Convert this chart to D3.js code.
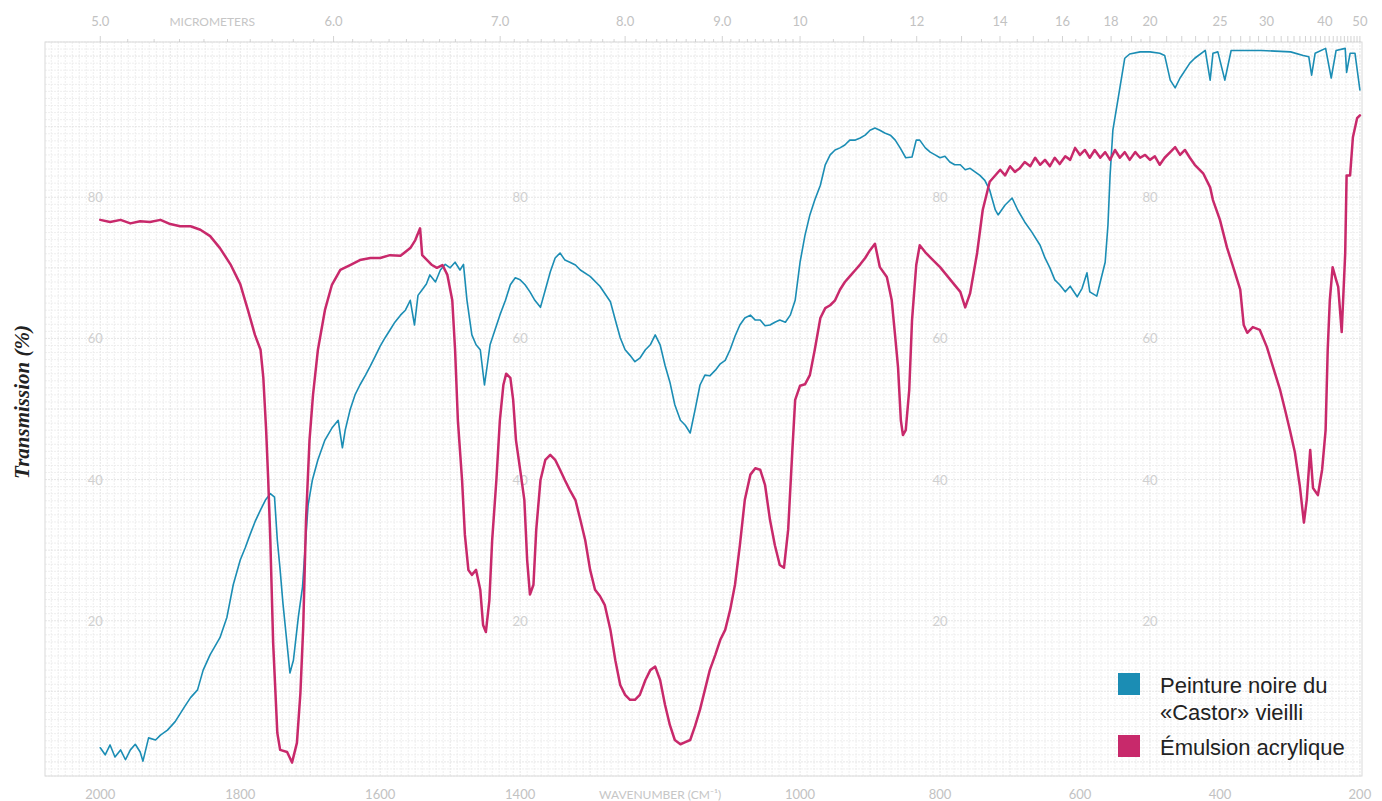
<!DOCTYPE html>
<html>
<head>
<meta charset="utf-8">
<script src="https://cdn.jsdelivr.net/npm/d3@7"></script>
<style>
  body { margin: 0; background: #fff; }
  svg { display: block; }
</style>
</head>
<body>
<div id="chart"></div>
<script>
// Spectre IR : [nombre d'onde (cm-1), transmission (%)]
const peintureCastor = [
  [2000, 2.0], [1993, 1.0], [1986, 2.4], [1979, 0.7], [1971, 1.7], [1964, 0.3], [1957, 1.7],
  [1950, 2.5], [1943, 1.4], [1939, 0.1], [1931, 3.4], [1921, 3.1], [1914, 3.8], [1904, 4.5],
  [1893, 5.7], [1886, 6.8], [1879, 7.9], [1871, 9.1], [1861, 10.2], [1853, 13.0], [1843, 15.2],
  [1829, 17.6], [1819, 20.5], [1810, 25.1], [1800, 28.6], [1793, 30.3], [1786, 32.2], [1779, 34.0],
  [1771, 35.7], [1764, 37.1], [1757, 38.0], [1751, 37.5], [1747, 31.4], [1743, 27.2], [1739, 22.5],
  [1733, 16.6], [1729, 12.6], [1724, 14.4], [1717, 20.5], [1711, 24.8], [1707, 30.7], [1703, 36.4],
  [1697, 39.9], [1689, 42.8], [1679, 45.6], [1669, 47.3], [1660, 48.4], [1654, 44.5], [1650, 47.0],
  [1643, 49.9], [1636, 52.0], [1629, 53.4], [1621, 54.8], [1614, 56.1], [1607, 57.5], [1600, 58.9],
  [1593, 60.1], [1586, 61.2], [1579, 62.3], [1571, 63.3], [1564, 64.0], [1557, 65.4], [1551, 61.9],
  [1546, 66.1], [1540, 66.9], [1534, 67.7], [1529, 69.0], [1521, 68.0], [1514, 69.7], [1507, 70.5],
  [1500, 70.0], [1493, 70.8], [1486, 69.7], [1481, 70.5], [1476, 65.4], [1469, 60.5], [1463, 59.1],
  [1457, 58.4], [1451, 53.4], [1447, 56.2], [1443, 59.1], [1436, 61.2], [1429, 63.3], [1421, 65.4],
  [1414, 67.6], [1407, 68.6], [1400, 68.3], [1393, 67.6], [1386, 66.6], [1379, 65.4], [1371, 64.4],
  [1364, 66.9], [1357, 69.4], [1350, 71.4], [1343, 72.1], [1336, 71.1], [1329, 70.8], [1321, 70.4],
  [1314, 69.7], [1300, 68.8], [1286, 67.4], [1271, 65.2], [1264, 62.6], [1257, 60.1], [1250, 58.4],
  [1243, 57.6], [1236, 56.7], [1229, 57.2], [1221, 58.4], [1214, 59.1], [1207, 60.5], [1200, 59.1],
  [1193, 56.2], [1186, 53.8], [1179, 50.6], [1171, 48.4], [1164, 47.7], [1157, 46.6], [1150, 49.9],
  [1143, 53.4], [1136, 54.8], [1129, 54.7], [1121, 55.5], [1114, 56.4], [1107, 56.9], [1100, 58.4],
  [1093, 60.3], [1086, 61.9], [1079, 62.9], [1071, 63.3], [1064, 62.6], [1057, 62.6], [1050, 61.8],
  [1043, 61.9], [1036, 62.3], [1029, 62.6], [1021, 62.3], [1014, 63.3], [1007, 65.4], [1000, 70.8],
  [993, 74.6], [986, 77.5], [979, 79.6], [971, 81.7], [964, 84.6], [957, 86.0], [950, 86.7],
  [943, 87.0], [936, 87.4], [929, 88.1], [921, 88.1], [914, 88.4], [907, 88.8], [900, 89.5],
  [893, 89.8], [886, 89.5], [879, 89.1], [871, 88.8], [864, 88.1], [857, 87.0], [849, 85.6],
  [840, 85.7], [834, 88.1], [829, 88.1], [821, 87.0], [814, 86.4], [807, 86.0], [800, 85.6],
  [793, 85.8], [786, 85.0], [779, 84.6], [771, 84.6], [764, 83.9], [757, 84.1], [750, 83.6],
  [743, 83.1], [736, 82.4], [729, 81.0], [721, 78.2], [717, 77.5], [707, 78.9], [697, 79.9],
  [689, 78.2], [679, 76.5], [669, 75.1], [657, 73.2], [650, 71.4], [643, 70.0], [636, 68.3],
  [629, 67.6], [621, 66.6], [614, 67.4], [604, 65.9], [597, 67.1], [590, 69.3], [586, 66.6],
  [576, 66.0], [571, 68.0], [564, 70.8], [560, 76.1], [557, 83.1], [553, 89.5], [547, 93.1],
  [543, 95.5], [536, 99.7], [529, 100.3], [514, 100.6], [500, 100.6], [486, 100.4], [479, 100.1],
  [471, 96.6], [464, 95.5], [457, 96.9], [443, 99.0], [436, 99.7], [421, 100.8], [414, 96.6],
  [410, 100.4], [403, 100.6], [393, 96.6], [384, 100.8], [341, 100.8], [299, 100.6], [281, 100.1],
  [273, 99.9], [269, 97.3], [264, 100.4], [249, 101.1], [241, 96.9], [234, 100.8], [221, 101.1],
  [219, 97.7], [214, 100.4], [207, 100.4], [200, 95.2]
];

const emulsionAcrylique = [
  [2000, 76.8], [1986, 76.5], [1971, 76.8], [1957, 76.3], [1943, 76.6], [1929, 76.5], [1914, 76.8],
  [1900, 76.2], [1886, 75.9], [1871, 75.9], [1857, 75.4], [1843, 74.5], [1829, 72.8], [1814, 70.5],
  [1800, 67.7], [1789, 64.0], [1779, 60.5], [1771, 58.4], [1767, 54.4], [1763, 47.0], [1760, 39.9],
  [1757, 31.4], [1753, 16.9], [1747, 4.1], [1743, 1.7], [1733, 1.4], [1726, -0.1], [1719, 2.7],
  [1714, 9.8], [1710, 19.1], [1706, 34.3], [1701, 45.6], [1696, 52.0], [1689, 58.4], [1679, 64.0],
  [1669, 67.6], [1657, 69.7], [1643, 70.4], [1629, 71.1], [1614, 71.4], [1600, 71.4], [1586, 71.8],
  [1571, 71.7], [1557, 72.8], [1550, 73.9], [1543, 75.6], [1540, 71.8], [1533, 71.1], [1526, 70.4],
  [1519, 70.0], [1511, 70.4], [1504, 69.0], [1497, 65.4], [1493, 58.4], [1489, 48.4], [1483, 39.9],
  [1479, 32.2], [1474, 27.2], [1469, 26.5], [1463, 27.2], [1457, 24.4], [1453, 19.4], [1449, 18.4],
  [1444, 22.9], [1440, 31.4], [1434, 39.9], [1429, 48.4], [1424, 53.4], [1420, 55.0], [1414, 54.4],
  [1410, 51.3], [1406, 45.6], [1400, 41.4], [1394, 37.1], [1390, 28.6], [1386, 23.7], [1381, 25.1],
  [1377, 32.9], [1371, 39.9], [1364, 42.8], [1357, 43.5], [1350, 42.8], [1343, 41.4], [1336, 39.9],
  [1329, 38.5], [1321, 37.1], [1314, 34.3], [1307, 31.4], [1300, 27.2], [1293, 24.4], [1286, 23.5],
  [1279, 22.2], [1271, 18.7], [1264, 14.4], [1257, 10.9], [1250, 9.5], [1243, 8.8], [1236, 8.8],
  [1229, 9.5], [1221, 11.6], [1214, 13.0], [1207, 13.5], [1200, 11.6], [1193, 8.1], [1186, 5.2],
  [1179, 3.1], [1171, 2.5], [1164, 2.8], [1157, 3.1], [1150, 5.1], [1143, 7.4], [1136, 10.2],
  [1129, 13.0], [1121, 15.2], [1114, 17.3], [1107, 18.7], [1100, 21.5], [1093, 25.1], [1086, 30.7],
  [1079, 37.1], [1071, 40.7], [1064, 41.6], [1057, 41.4], [1050, 39.2], [1043, 34.3], [1036, 30.7],
  [1029, 27.9], [1023, 27.5], [1017, 32.9], [1011, 44.2], [1007, 51.3], [1000, 53.3], [993, 53.5],
  [986, 54.8], [979, 58.4], [971, 62.9], [964, 64.3], [957, 64.7], [950, 65.4], [943, 66.9],
  [936, 68.0], [929, 68.8], [921, 69.7], [914, 70.5], [907, 71.4], [900, 72.5], [893, 73.4],
  [886, 70.1], [876, 68.7], [869, 65.4], [864, 60.2], [860, 55.9], [856, 48.4], [853, 46.3],
  [849, 47.0], [844, 52.7], [840, 62.6], [834, 70.4], [829, 73.2], [821, 72.2], [814, 71.5],
  [800, 70.1], [781, 67.8], [771, 66.6], [764, 64.4], [757, 66.4], [747, 72.1], [739, 78.2],
  [729, 82.2], [714, 83.9], [707, 83.1], [700, 84.4], [693, 83.6], [686, 84.1], [679, 85.0],
  [671, 84.4], [664, 85.6], [657, 84.6], [650, 85.3], [643, 84.4], [636, 85.6], [629, 84.7],
  [621, 85.8], [614, 85.3], [607, 87.0], [600, 86.0], [593, 86.7], [586, 85.6], [579, 86.7],
  [571, 85.6], [564, 86.4], [557, 85.3], [550, 86.7], [543, 85.6], [536, 86.4], [529, 85.3],
  [521, 86.4], [514, 85.6], [507, 86.0], [500, 85.3], [493, 85.8], [486, 84.6], [479, 85.6],
  [471, 86.4], [464, 87.1], [457, 86.0], [450, 86.7], [443, 85.6], [436, 84.6], [424, 83.4],
  [414, 81.4], [410, 79.6], [400, 76.8], [390, 72.9], [381, 70.1], [371, 66.9], [366, 61.9],
  [361, 60.8], [353, 61.6], [343, 61.2], [333, 58.8], [324, 55.9], [314, 52.7], [307, 49.9],
  [300, 47.0], [293, 43.9], [286, 39.2], [280, 33.9], [276, 37.1], [271, 44.2], [267, 38.8],
  [260, 37.8], [254, 41.4], [249, 47.0], [246, 58.4], [243, 65.4], [239, 70.1], [234, 68.3],
  [231, 67.3], [226, 60.9], [221, 72.1], [219, 83.1], [214, 83.1], [210, 88.5], [204, 91.2],
  [200, 91.6]
];

// Graduations
const wavenumberLabels = [2000, 1800, 1600, 1400, 1000, 800, 600, 400, 200];
const micrometerLabels = [5.0, 6.0, 7.0, 8.0, 9.0, 10, 12, 14, 16, 18, 20, 25, 30, 40, 50];
const transmissionLabels = [80, 60, 40, 20];
const labelColumns = [2007, 1400, 800, 500];   // colonnes où le papier répète les % imprimés

const series = [
  { name: ['Peinture noire du', '«Castor» vieilli'], data: peintureCastor, color: '#1b8db4', width: 1.6 },
  { name: ['Émulsion acrylique'], data: emulsionAcrylique, color: '#c8296b', width: 2.5 }
];

const width = 1382, height = 801;
const svg = d3.select('#chart')
  .append('svg')
  .attr('width', width)
  .attr('height', height);

// Echelles
const xScale = d3.scaleLinear().domain([2079, 197]).range([45, 1362]);
const yScale = d3.scaleLinear().domain([-2, 102]).range([776, 42]);

// Papier millimétré (très pâle)
const grid = svg.append('g');
const [y0, y1] = yScale.range();
for (let w = 2070; w >= 200; w -= 10) {
  const major = w % 100 === 0;
  grid.append('line')
    .attr('x1', xScale(w)).attr('x2', xScale(w))
    .attr('y1', y1).attr('y2', y0)
    .attr('stroke', major ? '#e0e0e0' : '#ebebeb')
    .attr('stroke-width', 0.8)
    .attr('stroke-dasharray', '2,1');
}
for (let t = -2; t <= 102; t += 1) {
  const major = t % 10 === 0;
  grid.append('line')
    .attr('x1', xScale.range()[0]).attr('x2', xScale.range()[1])
    .attr('y1', yScale(t)).attr('y2', yScale(t))
    .attr('stroke', major ? '#e0e0e0' : '#ebebeb')
    .attr('stroke-width', 0.8)
    .attr('stroke-dasharray', '2,1');
}
grid.append('rect')
  .attr('x', 45).attr('y', y1)
  .attr('width', 1362 - 45).attr('height', y0 - y1)
  .attr('fill', 'none').attr('stroke', '#dadada').attr('stroke-width', 1);

// Axe du haut : micromètres (1e4 / nombre d'onde)
const microTicks = d3.range(5.0, 10, 0.1).concat(d3.range(10, 20, 0.5), d3.range(20, 51, 1));
const topAxis = svg.append('g');
topAxis.selectAll('line')
  .data(microTicks)
  .enter()
  .append('line')
  .attr('x1', d => xScale(1e4 / d)).attr('x2', d => xScale(1e4 / d))
  .attr('y1', y1).attr('y2', d => y1 - (Math.abs(d - Math.round(d)) < 1e-6 ? 6 : 3))
  .attr('stroke', '#c8c8c8').attr('stroke-width', 0.8);
topAxis.selectAll('text')
  .data(micrometerLabels)
  .enter()
  .append('text')
  .attr('x', d => xScale(1e4 / d))
  .attr('y', 26)
  .attr('text-anchor', 'middle')
  .style('font-family', 'Lato, "Open Sans", sans-serif')
  .style('font-size', '13px')
  .style('fill', '#c2c2c2')
  .text(d => d < 10 ? d.toFixed(1) : d);
topAxis.append('text')
  .attr('x', xScale(1840)).attr('y', 26)
  .attr('text-anchor', 'middle')
  .style('font-family', 'Lato, "Open Sans", sans-serif')
  .style('font-size', '12px')
  .style('fill', '#c6c6c6')
  .text('MICROMETERS');

// Axe du bas : nombres d'onde
const bottomAxis = svg.append('g');
bottomAxis.selectAll('text')
  .data(wavenumberLabels)
  .enter()
  .append('text')
  .attr('x', d => xScale(d))
  .attr('y', 799)
  .attr('text-anchor', 'middle')
  .style('font-family', 'Lato, "Open Sans", sans-serif')
  .style('font-size', '13px')
  .style('fill', '#c2c2c2')
  .text(d => d);
bottomAxis.append('text')
  .attr('x', xScale(1200)).attr('y', 799)
  .attr('text-anchor', 'middle')
  .style('font-family', 'Lato, "Open Sans", sans-serif')
  .style('font-size', '12px')
  .style('fill', '#c6c6c6')
  .text('WAVENUMBER (CM⁻¹)');

// Pourcentages imprimés sur le papier
labelColumns.forEach(col => {
  svg.append('g').selectAll('text')
    .data(transmissionLabels)
    .enter()
    .append('text')
    .attr('x', xScale(col))
    .attr('y', d => yScale(d) + 5)
    .attr('text-anchor', 'middle')
    .style('font-family', 'Lato, "Open Sans", sans-serif')
    .style('font-size', '13px')
    .style('fill', '#d0d0d0')
    .text(d => d);
});

// Titre de l'axe Y
svg.append('text')
  .attr('transform', 'rotate(-90)')
  .attr('x', -402)
  .attr('y', 29)
  .attr('text-anchor', 'middle')
  .style('font-family', '"Liberation Serif", "DejaVu Serif", serif')
  .style('font-weight', 'bold')
  .style('font-style', 'italic')
  .style('font-size', '21px')
  .style('fill', '#222')
  .text('Transmission (%)');

// Courbes
const line = d3.line()
  .x(d => xScale(d[0]))
  .y(d => yScale(d[1]));

series.forEach(s => {
  svg.append('path')
    .datum(s.data)
    .attr('d', line)
    .attr('fill', 'none')
    .attr('stroke', s.color)
    .attr('stroke-width', s.width)
    .attr('stroke-linejoin', 'round')
    .attr('stroke-linecap', 'round');
});

// Légende
const legend = svg.append('g').attr('transform', 'translate(1118, 673)');
let offset = 0;
series.forEach(s => {
  legend.append('rect')
    .attr('x', 0).attr('y', offset)
    .attr('width', 22).attr('height', 22)
    .style('fill', s.color);
  s.name.forEach((txt, i) => {
    legend.append('text')
      .attr('x', 42)
      .attr('y', offset + 20 + i * 27)
      .style('font-family', '"Liberation Sans", Arial, sans-serif')
      .style('font-size', '22px')
      .style('fill', '#222')
      .text(txt);
  });
  offset += 62;
});
</script>
</body>
</html>
